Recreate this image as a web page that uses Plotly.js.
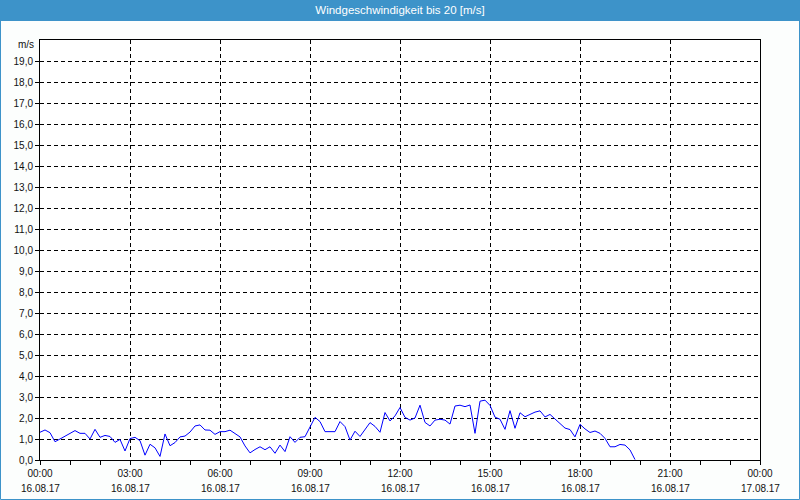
<!DOCTYPE html>
<html>
<head>
<meta charset="utf-8">
<script src="https://cdn.plot.ly/plotly-3.0.1.min.js"></script>
<style>
html,body{margin:0;padding:0;background:#fcfefd;}
#chart{width:800px;height:500px;}
</style>
</head>
<body>
<div id="chart"></div>
<script>
// ---- data ----
const day = '2017-08-16';
const times = [
'00:00','00:10','00:20','00:30','00:40','00:50','01:00','01:10','01:20','01:30','01:40','01:50',
'02:00','02:10','02:20','02:30','02:40','02:50','03:00','03:10','03:20','03:30','03:40','03:50',
'04:00','04:10','04:20','04:30','04:40','04:50','05:00','05:10','05:20','05:30','05:40','05:50',
'06:00','06:10','06:20','06:30','06:40','06:50','07:00','07:10','07:20','07:30','07:40','07:50',
'08:00','08:10','08:20','08:30','08:40','08:50','09:00','09:10','09:20','09:30','09:40','09:50',
'10:00','10:10','10:20','10:30','10:40','10:50','11:00','11:10','11:20','11:30','11:40','11:50',
'12:00','12:10','12:20','12:30','12:40','12:50','13:00','13:10','13:20','13:30','13:40','13:50',
'14:00','14:10','14:20','14:30','14:40','14:50','15:00','15:10','15:20','15:30','15:40','15:50',
'16:00','16:10','16:20','16:30','16:40','16:50','17:00','17:10','17:20','17:30','17:40','17:50',
'18:00','18:10','18:20','18:30','18:40','18:50','19:00','19:10','19:20','19:30','19:40','19:50'
];
const windSpeed = [
1.32,1.43,1.30,0.87,1.00,1.14,1.27,1.40,1.27,1.27,1.00,1.46,
1.08,1.17,1.12,0.84,0.98,0.43,1.02,1.08,0.92,0.23,0.75,0.58,
0.17,1.24,0.68,0.83,1.10,1.14,1.33,1.62,1.67,1.43,1.42,1.22,
1.35,1.35,1.42,1.28,1.10,0.67,0.34,0.50,0.63,0.49,0.63,0.32,
0.71,0.40,1.11,0.84,1.08,1.11,1.59,2.03,1.83,1.35,1.35,1.35,
1.83,1.59,0.95,1.37,1.12,1.45,1.78,1.60,1.32,2.26,1.86,2.10,
2.50,2.03,1.90,2.00,2.61,1.79,1.62,1.90,1.94,1.90,1.71,2.57,
2.61,2.54,2.62,1.27,2.80,2.85,2.60,2.04,1.94,1.46,2.35,1.51,
2.25,2.06,2.19,2.28,2.34,2.05,2.17,1.96,1.77,1.52,1.45,1.10,
1.70,1.48,1.31,1.38,1.27,1.03,0.63,0.63,0.74,0.71,0.48,0.02
];
const tickTimes = ['2017-08-16 00:00','2017-08-16 03:00','2017-08-16 06:00','2017-08-16 09:00','2017-08-16 12:00','2017-08-16 15:00','2017-08-16 18:00','2017-08-16 21:00','2017-08-17 00:00'];
const tickHours = ['00:00','03:00','06:00','09:00','12:00','15:00','18:00','21:00','00:00'];
const tickDates = ['16.08.17','16.08.17','16.08.17','16.08.17','16.08.17','16.08.17','16.08.17','16.08.17','17.08.17'];
const yTicks = [0,1,2,3,4,5,6,7,8,9,10,11,12,13,14,15,16,17,18,19];
const titleText = 'Windgeschwindigkeit bis 20 [m/s]';
const unitText = 'm/s';

// ---- chart ----
const W = 800, H = 500, L = 40, R = 40, T = 40, B = 40;
const pw = W - L - R, ph = H - T - B;
const px = v => (v - L) / pw;          // page x -> paper x
const py = v => (H - B - v) / ph;      // page y -> paper y
const blue = '#3d93c9';
const font = 'Liberation Sans, Arial, sans-serif';

const trace = {
  x: times.map(t => day + ' ' + t),
  y: windSpeed,
  type: 'scatter',
  mode: 'lines',
  line: {color: '#0000ff', width: 1},
  hoverinfo: 'skip'
};

const annotations = tickTimes.map((t, i) => ({
  x: t, xref: 'x', y: py(488.5), yref: 'paper',
  text: tickDates[i], showarrow: false,
  xanchor: 'center', yanchor: 'middle',
  font: {family: font, size: 10, color: '#111'}
}));
annotations.push({
  x: px(36), xref: 'paper', y: py(45), yref: 'paper',
  text: unitText, showarrow: false, xanchor: 'right', yanchor: 'middle',
  font: {family: font, size: 10, color: '#111'}
});

const layout = {
  width: W, height: H,
  margin: {l: L, r: R, t: T, b: B, pad: 0},
  paper_bgcolor: '#fcfefd',
  plot_bgcolor: '#ffffff',
  showlegend: false,
  separators: ', ',
  font: {family: font, size: 10, color: '#111'},
  title: {
    text: titleText,
    font: {family: font, size: 11.5, color: '#ffffff'},
    x: 0.5, xanchor: 'center', xref: 'paper',
    y: 1 - 10 / H, yanchor: 'middle', yref: 'container'
  },
  xaxis: {
    type: 'date',
    range: ['2017-08-16 00:00', '2017-08-17 00:00'],
    tickmode: 'array', tickvals: tickTimes, ticktext: tickHours,
    ticks: 'outside', ticklen: 4, tickcolor: '#000',
    tickfont: {family: font, size: 10, color: '#111'},
    showgrid: true, gridcolor: '#000', gridwidth: 1, griddash: '4px,3px',
    showline: true, linecolor: '#000', linewidth: 1, mirror: true,
    zeroline: false, fixedrange: true,
    minor: {dtick: 3600000, ticks: 'outside', ticklen: 4, tickcolor: '#000', showgrid: false}
  },
  yaxis: {
    range: [0, 20],
    tickmode: 'array', tickvals: yTicks, tickformat: '.1f',
    ticks: 'outside', ticklen: 4, tickcolor: '#000',
    tickfont: {family: font, size: 10, color: '#111'},
    showgrid: true, gridcolor: '#000', gridwidth: 1, griddash: '4px,3px',
    showline: true, linecolor: '#000', linewidth: 1, mirror: true,
    zeroline: false, fixedrange: true
  },
  shapes: [
    {type: 'rect', xref: 'paper', yref: 'paper', layer: 'below',
     x0: px(0), x1: px(W), y0: py(21), y1: py(0),
     fillcolor: blue, line: {width: 0}},
    {type: 'rect', xref: 'paper', yref: 'paper', layer: 'above',
     x0: px(0.5), x1: px(W - 0.5), y0: py(H - 0.5), y1: py(0.5),
     fillcolor: 'rgba(0,0,0,0)', line: {color: blue, width: 1}}
  ],
  annotations: annotations
};

Plotly.newPlot('chart', [trace], layout, {displayModeBar: false, staticPlot: true});
</script>
</body>
</html>
